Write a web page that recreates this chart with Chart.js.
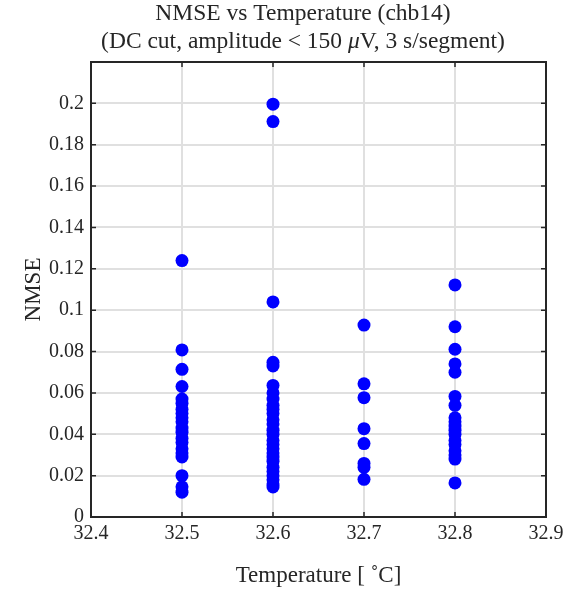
<!DOCTYPE html>
<html>
<head>
<meta charset="utf-8">
<script src="https://cdn.jsdelivr.net/npm/chart.js@4.4.1/dist/chart.umd.min.js"></script>
<style>
  html, body { margin: 0; padding: 0; background: #fff; }
  #wrap { width: 580px; height: 590px; }
</style>
</head>
<body>
<div id="wrap"><canvas id="nmseChart"></canvas></div>
<script>
// temperatures (deg C) and the NMSE values measured at each one
var temps = [32.5, 32.6, 32.7, 32.8];
var nmse325 = [0.124, 0.0808, 0.0714, 0.0631, 0.057, 0.055, 0.052, 0.050, 0.048, 0.046, 0.043, 0.041, 0.038, 0.036, 0.033, 0.031, 0.029, 0.020, 0.0146, 0.012];
var nmse326 = [0.1996, 0.1912, 0.104, 0.0748, 0.073, 0.0636, 0.060, 0.057, 0.054, 0.052, 0.050, 0.047, 0.045, 0.042, 0.040, 0.037, 0.035, 0.033, 0.031, 0.029, 0.027, 0.024, 0.022, 0.020, 0.018, 0.016, 0.0145];
var nmse327 = [0.0928, 0.0644, 0.0577, 0.0427, 0.0355, 0.0259, 0.024, 0.0182];
var nmse328 = [0.1122, 0.092, 0.0811, 0.074, 0.070, 0.0583, 0.054, 0.048, 0.046, 0.044, 0.042, 0.040, 0.037, 0.035, 0.032, 0.030, 0.028, 0.0165];
var xTicks = [32.4, 32.5, 32.6, 32.7, 32.8, 32.9];
var title1 = 'NMSE vs Temperature (chb14)';
// second line split so the micro sign can be set in italics like the TeX original
var title2 = ['(DC cut, amplitude < 150 ', '\u03BC', 'V, 3 s/segment)'];

var groups = [nmse325, nmse326, nmse327, nmse328];
var points = [];
groups.forEach(function (vals, i) {
  vals.forEach(function (v) { points.push({ x: temps[i], y: v }); });
});

var serif = '"Liberation Serif", "Times New Roman", serif';

// MATLAB style box with inward ticks, plus the two line title
var boxPlugin = {
  id: 'box',
  afterDraw: function (chart) {
    var ctx = chart.ctx, a = chart.chartArea;
    var xs = chart.scales.x, ys = chart.scales.y;
    ctx.save();
    ctx.strokeStyle = '#262626';
    ctx.lineWidth = 2;
    ctx.strokeRect(a.left, a.top, a.right - a.left, a.bottom - a.top);
    ctx.lineWidth = 1.5;
    ctx.beginPath();
    xTicks.forEach(function (t) {
      var px = xs.getPixelForValue(t);
      ctx.moveTo(px, a.bottom); ctx.lineTo(px, a.bottom - 5);
      ctx.moveTo(px, a.top); ctx.lineTo(px, a.top + 5);
    });
    for (var v = 0; v <= 0.2001; v += 0.02) {
      var py = ys.getPixelForValue(v);
      ctx.moveTo(a.left, py); ctx.lineTo(a.left + 5, py);
      ctx.moveTo(a.right, py); ctx.lineTo(a.right - 5, py);
    }
    ctx.stroke();

    var cx = 303;
    var upright = '23.5px ' + serif, italic = 'italic 23.5px ' + serif;
    ctx.fillStyle = '#262626';
    ctx.textBaseline = 'middle';
    ctx.textAlign = 'center';
    ctx.font = upright;
    ctx.fillText(title1, cx, 14);

    ctx.textAlign = 'left';
    var fonts = [upright, italic, upright];
    var total = 0, widths = [];
    title2.forEach(function (s, i) {
      ctx.font = fonts[i];
      widths.push(ctx.measureText(s).width);
      total += widths[i];
    });
    var x = cx - total / 2;
    title2.forEach(function (s, i) {
      ctx.font = fonts[i];
      ctx.fillText(s, x, 42);
      x += widths[i];
    });
    ctx.restore();
  }
};

var ctx = document.getElementById('nmseChart').getContext('2d');
var myChart = new Chart(ctx, {
  type: 'scatter',
  data: {
    datasets: [{
      label: 'NMSE',
      data: points,
      backgroundColor: '#0000ff',
      borderColor: '#0000ff',
      pointRadius: 6.5,
      pointHoverRadius: 6.5,
      borderWidth: 0
    }]
  },
  options: {
    responsive: true,
    maintainAspectRatio: false,
    animation: false,
    layout: { padding: { left: 20, right: 34, top: 62, bottom: 0 } },
    plugins: {
      legend: { display: false },
      tooltip: { enabled: false },
      title: { display: false }
    },
    scales: {
      x: {
        type: 'linear',
        min: 32.4,
        max: 32.9,
        afterBuildTicks: function (scale) {
          scale.ticks = xTicks.map(function (v) { return { value: v }; });
        },
        afterFit: function (scale) { scale.height = 73; },
        ticks: {
          color: '#262626',
          font: { family: serif, size: 20 },
          padding: 5,
          callback: function (v) { return v.toFixed(1); }
        },
        grid: { color: '#e0e0e0', lineWidth: 2, drawTicks: false },
        border: { display: false },
        title: {
          display: true,
          text: 'Temperature [ \u02DAC]',
          color: '#262626',
          font: { family: serif, size: 23 },
          padding: { top: 4, bottom: 0 }
        }
      },
      y: {
        min: 0,
        max: 0.22,
        afterBuildTicks: function (scale) {
          var t = [];
          for (var i = 0; i <= 10; i++) t.push({ value: Math.round(i * 0.02 * 100) / 100 });
          scale.ticks = t;
        },
        afterFit: function (scale) { scale.width = 71; },
        ticks: {
          color: '#262626',
          font: { family: serif, size: 20 },
          padding: 7,
          callback: function (v) { return String(Math.round(v * 100) / 100); }
        },
        grid: { color: '#e0e0e0', lineWidth: 2, drawTicks: false },
        border: { display: false },
        title: {
          display: true,
          text: 'NMSE',
          color: '#262626',
          font: { family: serif, size: 23 },
          padding: { top: 0, bottom: 4 }
        }
      }
    }
  },
  plugins: [boxPlugin]
});
</script>
</body>
</html>
